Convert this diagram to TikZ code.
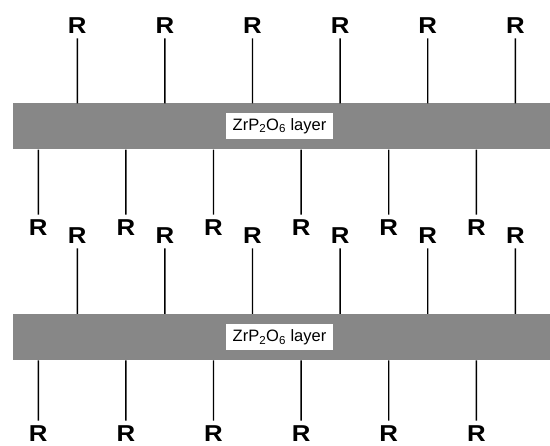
\documentclass[tikz,border=0pt]{standalone}
\usepackage{fontspec}
\setmainfont{Liberation Sans}
\definecolor{layergray}{RGB}{135,135,135}
\begin{document}
\begin{tikzpicture}[x=1pt,y=-1pt,
  layer/.style={fill=layergray, draw=none, minimum width=537.7pt, minimum height=46pt, inner sep=0pt, anchor=north west},
  lbl/.style={fill=white, minimum width=107pt, minimum height=26pt, inner sep=0pt, font=\fontsize{16.5}{17}\selectfont},
  rlab/.style={font=\fontsize{23}{23}\selectfont\bfseries, xscale=1.12, inner xsep=0pt, inner ysep=0pt, outer ysep=5pt},
  stem/.style={line width=1.4pt}]
\useasboundingbox (0,0) rectangle (550,446);
% layers
\node[layer] (L1) at (12.3,103.3) {};
\node[layer] (L2) at (12.3,314) {};
\node[lbl] (T1) at (279.5,126) {ZrP\textsubscript{2}O\textsubscript{6} layer};
\node[lbl] (T2) at (279.5,337.5) {ZrP\textsubscript{2}O\textsubscript{6} layer};
\foreach \i in {0,...,5}{
  \pgfmathsetmacro{\xt}{77.3+87.6*\i}
  \pgfmathsetmacro{\xb}{38.3+87.6*\i}
  % layer 1 top
  \node[rlab] (a\i) at (\xt,25.5) {R};
  \draw[stem] (a\i) -- (a\i |- L1.north);
  % layer 1 bottom
  \node[rlab] (b\i) at (\xb,227.5) {R};
  \draw[stem] (b\i) -- (b\i |- L1.south);
  % layer 2 top
  \node[rlab] (c\i) at (\xt,235.5) {R};
  \draw[stem] (c\i) -- (c\i |- L2.north);
  % layer 2 bottom
  \node[rlab] (d\i) at (\xb,433.5) {R};
  \draw[stem] (d\i) -- (d\i |- L2.south);
}
\end{tikzpicture}
\end{document}
